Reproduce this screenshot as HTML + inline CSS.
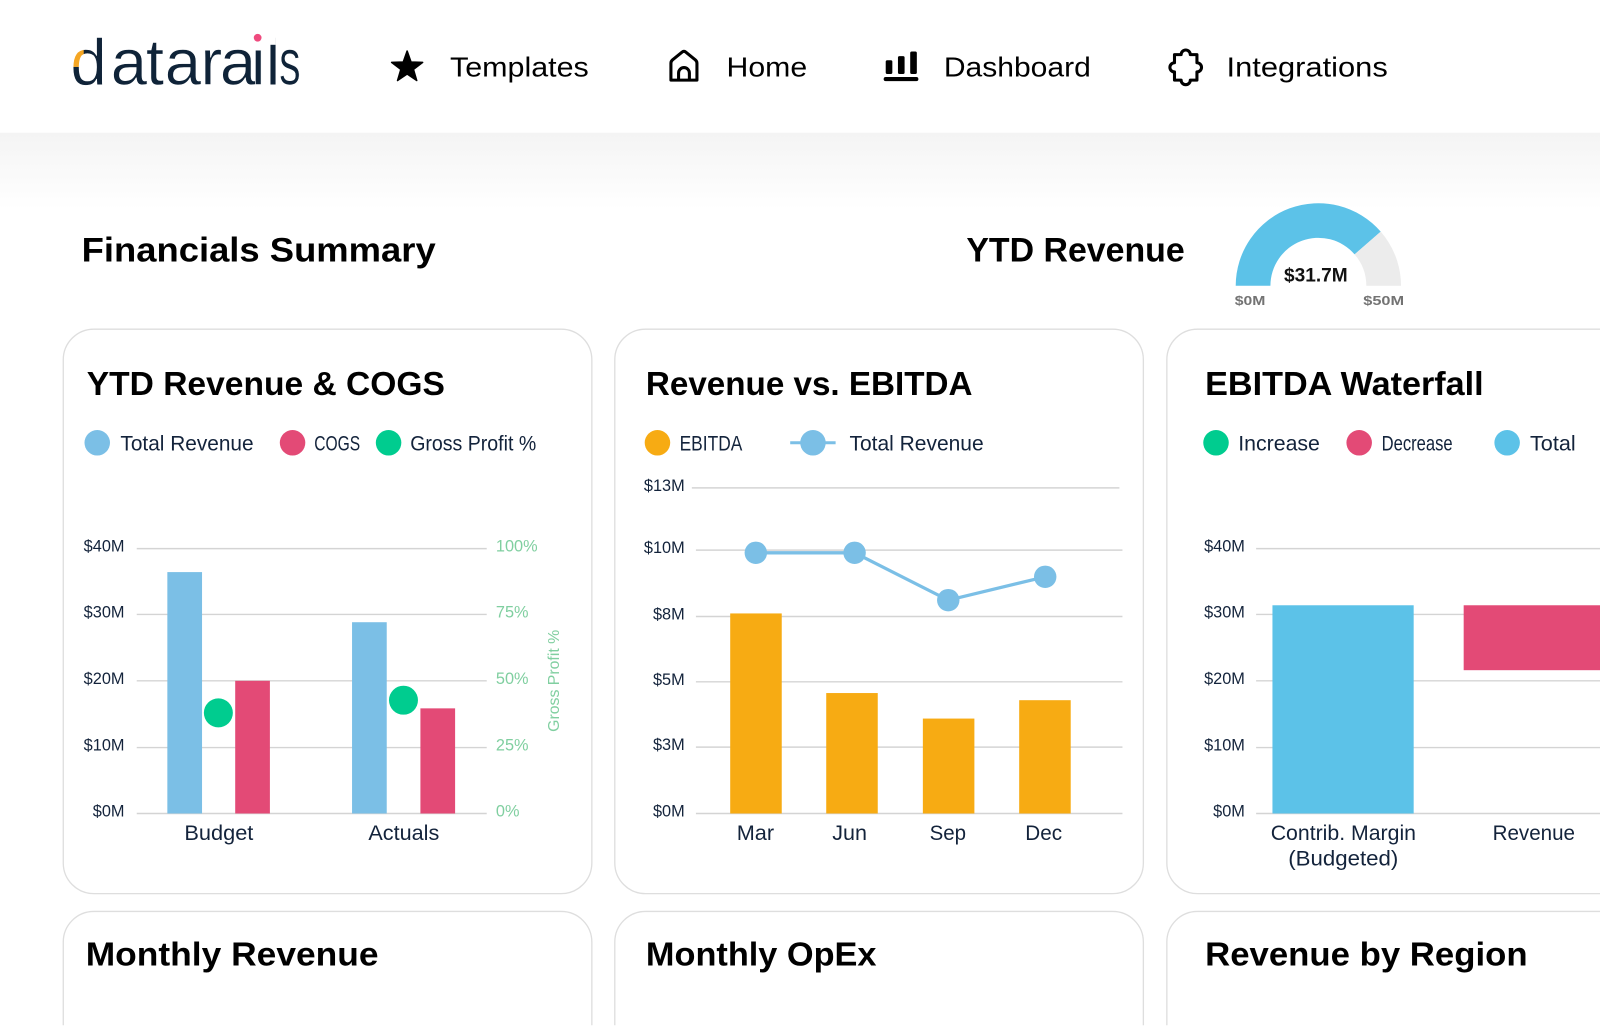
<!DOCTYPE html>
<html><head><meta charset="utf-8"><style>
html,body{margin:0;padding:0;background:#fff;width:1600px;height:1036px;overflow:hidden}
svg{display:block}
text{font-family:"Liberation Sans",sans-serif}
</style></head><body>
<svg width="1600" height="1036" viewBox="0 0 1568 1015" preserveAspectRatio="none" xmlns="http://www.w3.org/2000/svg">
<defs>
<linearGradient id="band" x1="0" y1="0" x2="0" y2="1">
<stop offset="0" stop-color="#f4f4f4"/><stop offset="1" stop-color="#ffffff"/>
</linearGradient>
<clipPath id="cOr"><rect x="60" y="40" width="22" height="25.5"/></clipPath>
<clipPath id="cDot"><rect x="240" y="20" width="30" height="24"/></clipPath>
</defs>
<rect x="0" y="0" width="1568" height="1015" fill="#fff"/>
<rect x="0" y="130" width="1568" height="75" fill="url(#band)"/>

<!-- logo -->
<text font-size="64" fill="#0f2338" stroke="#fff" stroke-width="0.6"><tspan x="69" y="83">d</tspan><tspan x="108.5" y="83">a</tspan><tspan x="143" y="83">t</tspan><tspan x="161.5" y="83">a</tspan><tspan x="196.5" y="83">r</tspan><tspan x="215.5" y="83">a</tspan><tspan x="246" y="83">i</tspan><tspan x="260.5" y="83">l</tspan></text>
<text transform="translate(273.5,0) scale(0.66,1)" x="0" y="83" font-size="64" fill="#0f2338" stroke="#fff" stroke-width="0.6">s</text>
<g clip-path="url(#cOr)"><rect x="60" y="40" width="22" height="25.5" fill="#fff"/><text x="69" y="83" font-size="64" fill="#f5a623" stroke="#fff" stroke-width="0.6">d</text></g>
<g clip-path="url(#cDot)"><rect x="240" y="20" width="30" height="24" fill="#fff"/><circle cx="252.5" cy="37" r="3.8" fill="#ef4a7e"/></g>

<!-- nav -->
<polygon points="399,50 402.8,60.7 414.2,61.1 405.2,68 408.4,78.9 399,72.5 389.6,78.9 392.8,68 383.8,61.1 395.2,60.7" fill="#000" stroke="#000" stroke-width="1.5" stroke-linejoin="round"/>
<text x="441" y="75" font-size="27.5" fill="#000" textLength="136" lengthAdjust="spacingAndGlyphs">Templates</text>
<path d="M657.5,78.5 V62 Q657.5,60 659,58.7 L668.5,51 Q670.3,49.6 672,51 L681.5,58.7 Q683,60 683,62 V78.5 Z" fill="none" stroke="#000" stroke-width="3" stroke-linejoin="round"/>
<path d="M665,78.5 V71.5 a5.3,5.3 0 0 1 10.6,0 V78.5" fill="none" stroke="#000" stroke-width="3"/>
<text x="712" y="75" font-size="27.5" fill="#000" textLength="79" lengthAdjust="spacingAndGlyphs">Home</text>
<rect x="868" y="59" width="6.5" height="13.5" rx="1.5" fill="#000"/>
<rect x="880" y="55" width="6.5" height="17.5" rx="1.5" fill="#000"/>
<rect x="892" y="50.5" width="6.5" height="22" rx="1.5" fill="#000"/>
<rect x="866" y="75.5" width="34" height="4" rx="2" fill="#000"/>
<text x="925" y="75" font-size="27.5" fill="#000" textLength="144" lengthAdjust="spacingAndGlyphs">Dashboard</text>
<path d="M1151,53.5 H1157.5 a4.5,4.5 0 0 1 9,0 H1173 V61.5 a4.5,4.5 0 0 1 0,9 V78.5 H1166.5 a4.5,4.5 0 0 1 -9,0 H1151 V70.5 a4.5,4.5 0 0 1 0,-9 Z" fill="none" stroke="#000" stroke-width="3" stroke-linejoin="round"/>
<text x="1202" y="75" font-size="27.5" fill="#000" textLength="158" lengthAdjust="spacingAndGlyphs">Integrations</text>

<!-- summary header -->
<text x="80" y="256" font-size="34" font-weight="bold" fill="#000" textLength="347" lengthAdjust="spacingAndGlyphs">Financials Summary</text>
<text x="947" y="256" font-size="34" font-weight="bold" fill="#000" textLength="214" lengthAdjust="spacingAndGlyphs">YTD Revenue</text>
<path d="M1211,280 A81,81 0 0 1 1353.1,226.9 L1327.5,249.2 A47,47 0 0 0 1245,280 Z" fill="#5cc2e8"/>
<path d="M1353.1,226.9 A81,81 0 0 1 1373,280 L1339,280 A47,47 0 0 0 1327.5,249.2 Z" fill="#ececec"/>
<text x="1258.3" y="276" font-size="19" font-weight="bold" fill="#111" textLength="62.4" lengthAdjust="spacingAndGlyphs">$31.7M</text>
<text x="1210" y="299" font-size="13" font-weight="bold" fill="#737373" textLength="30" lengthAdjust="spacingAndGlyphs">$0M</text>
<text x="1336" y="299" font-size="13" font-weight="bold" fill="#737373" textLength="40" lengthAdjust="spacingAndGlyphs">$50M</text>

<!-- cards -->
<g fill="#fff" stroke="#dedede" stroke-width="1.3">
<rect x="62" y="322.5" width="518" height="553" rx="30"/>
<rect x="602.5" y="322.5" width="518" height="553" rx="30"/>
<path d="M1568,322.5 H1173.5 A30,30 0 0 0 1143.5,352.5 V845.5 A30,30 0 0 0 1173.5,875.5 H1568"/>
<path d="M62,1004.5 V923 A30,30 0 0 1 92,893 H550 A30,30 0 0 1 580,923 V1004.5"/>
<path d="M602.5,1004.5 V923 A30,30 0 0 1 632.5,893 H1090.5 A30,30 0 0 1 1120.5,923 V1004.5"/>
<path d="M1143.5,1004.5 V923 A30,30 0 0 1 1173.5,893 H1568"/>
</g>

<!-- card titles -->
<g font-size="33" font-weight="bold" fill="#000">
<text x="85" y="387" textLength="351" lengthAdjust="spacingAndGlyphs">YTD Revenue &amp; COGS</text>
<text x="633" y="387" textLength="320" lengthAdjust="spacingAndGlyphs">Revenue vs. EBITDA</text>
<text x="1181" y="387" textLength="273" lengthAdjust="spacingAndGlyphs">EBITDA Waterfall</text>
<text x="84" y="946" textLength="287" lengthAdjust="spacingAndGlyphs">Monthly Revenue</text>
<text x="633" y="946" textLength="226" lengthAdjust="spacingAndGlyphs">Monthly OpEx</text>
<text x="1181" y="946" textLength="316" lengthAdjust="spacingAndGlyphs">Revenue by Region</text>
</g>

<!-- legends -->
<circle cx="95.3" cy="433.8" r="12.5" fill="#7bbfe6"/>
<circle cx="286.7" cy="433.8" r="12.5" fill="#e34a76"/>
<circle cx="380.8" cy="433.8" r="12.5" fill="#00cc8f"/>
<circle cx="644.3" cy="433.8" r="12.5" fill="#f7ab13"/>
<line x1="774.4" y1="433.8" x2="818.9" y2="433.8" stroke="#7bbfe6" stroke-width="3"/>
<circle cx="796.7" cy="433.8" r="12.5" fill="#7bbfe6"/>
<circle cx="1191.7" cy="433.8" r="12.5" fill="#00cc8f"/>
<circle cx="1332" cy="433.8" r="12.5" fill="#e34a76"/>
<circle cx="1477" cy="433.8" r="12.5" fill="#5cc2e8"/>
<g font-size="21" fill="#13233b">
<text x="118" y="441.5" textLength="130.5" lengthAdjust="spacingAndGlyphs">Total Revenue</text>
<text x="308" y="441.5" textLength="45" lengthAdjust="spacingAndGlyphs">COGS</text>
<text x="402" y="441.5" textLength="123.5" lengthAdjust="spacingAndGlyphs">Gross Profit %</text>
<text x="666" y="441.5" textLength="61.5" lengthAdjust="spacingAndGlyphs">EBITDA</text>
<text x="832.5" y="441.5" textLength="131.5" lengthAdjust="spacingAndGlyphs">Total Revenue</text>
<text x="1213.5" y="441.5" textLength="80" lengthAdjust="spacingAndGlyphs">Increase</text>
<text x="1354" y="441.5" textLength="69.6" lengthAdjust="spacingAndGlyphs">Decrease</text>
<text x="1499.4" y="441.5" textLength="44.8" lengthAdjust="spacingAndGlyphs">Total</text>
</g>

<!-- gridlines -->
<g stroke="#d4d4d4" stroke-width="1.4">
<line x1="134" y1="537.5" x2="477" y2="537.5"/>
<line x1="134" y1="602" x2="477" y2="602"/>
<line x1="134" y1="667" x2="477" y2="667"/>
<line x1="134" y1="732.4" x2="477" y2="732.4"/>
<line x1="134" y1="797" x2="477" y2="797"/>
<line x1="678" y1="478" x2="1097" y2="478"/>
<line x1="682" y1="539" x2="1100" y2="539"/>
<line x1="682" y1="604" x2="1100" y2="604"/>
<line x1="682" y1="668" x2="1100" y2="668"/>
<line x1="682" y1="732" x2="1100" y2="732"/>
<line x1="682" y1="797" x2="1100" y2="797"/>
<line x1="1231" y1="537.5" x2="1568" y2="537.5"/>
<line x1="1231" y1="602" x2="1568" y2="602"/>
<line x1="1231" y1="667" x2="1568" y2="667"/>
<line x1="1231" y1="732.4" x2="1568" y2="732.4"/>
<line x1="1231" y1="797" x2="1568" y2="797"/>
</g>

<!-- tick labels -->
<g font-size="16" fill="#13233b" text-anchor="end">
<text x="122" y="540.5">$40M</text>
<text x="122" y="605">$30M</text>
<text x="122" y="670">$20M</text>
<text x="122" y="735.4">$10M</text>
<text x="122" y="800">$0M</text>
<text x="671" y="481">$13M</text>
<text x="671" y="542">$10M</text>
<text x="671" y="607">$8M</text>
<text x="671" y="671">$5M</text>
<text x="671" y="735">$3M</text>
<text x="671" y="800">$0M</text>
<text x="1220" y="540.5">$40M</text>
<text x="1220" y="605">$30M</text>
<text x="1220" y="670">$20M</text>
<text x="1220" y="735.4">$10M</text>
<text x="1220" y="800">$0M</text>
</g>
<g font-size="16" fill="#80cfa0">
<text x="486" y="540.5">100%</text>
<text x="486" y="605">75%</text>
<text x="486" y="670">50%</text>
<text x="486" y="735.4">25%</text>
<text x="486" y="800">0%</text>
<text transform="translate(548,717) rotate(-90)" x="0" y="0" font-size="15.5" textLength="100" lengthAdjust="spacingAndGlyphs">Gross Profit %</text>
</g>

<!-- chart 1 bars -->
<rect x="164" y="560.5" width="34" height="236.5" fill="#7bbfe6"/>
<rect x="230.5" y="667" width="34" height="130" fill="#e34a76"/>
<rect x="345" y="609.6" width="34" height="187.4" fill="#7bbfe6"/>
<rect x="412" y="694" width="34" height="103" fill="#e34a76"/>
<circle cx="214" cy="698.4" r="14.2" fill="#00cc8f"/>
<circle cx="395.4" cy="686" r="14.2" fill="#00cc8f"/>

<!-- chart 2 -->
<rect x="715.6" y="601" width="50.5" height="196" fill="#f7ab13"/>
<rect x="809.7" y="679" width="50.5" height="118" fill="#f7ab13"/>
<rect x="904.4" y="704" width="50.5" height="93" fill="#f7ab13"/>
<rect x="998.8" y="686" width="50.5" height="111" fill="#f7ab13"/>
<path d="M740.7,541.6 L837.5,541.6 L929.3,588 L1024.3,565.1" fill="none" stroke="#7bbfe6" stroke-width="3.2"/>
<g fill="#7bbfe6">
<circle cx="740.7" cy="541.6" r="11"/>
<circle cx="837.5" cy="541.6" r="11"/>
<circle cx="929.3" cy="588" r="11"/>
<circle cx="1024.3" cy="565.1" r="11"/>
</g>

<!-- chart 3 -->
<rect x="1247" y="593" width="138.4" height="204" fill="#5cc2e8"/>
<rect x="1434.4" y="593" width="133.6" height="63.6" fill="#e34a76"/>

<!-- category labels -->
<g font-size="20.5" fill="#13233b">
<text x="180.7" y="823" textLength="67.6" lengthAdjust="spacingAndGlyphs">Budget</text>
<text x="361" y="823" textLength="69.5" lengthAdjust="spacingAndGlyphs">Actuals</text>
<text x="722" y="823" textLength="36.6" lengthAdjust="spacingAndGlyphs">Mar</text>
<text x="815.6" y="823" textLength="34" lengthAdjust="spacingAndGlyphs">Jun</text>
<text x="911" y="823" textLength="35.7" lengthAdjust="spacingAndGlyphs">Sep</text>
<text x="1004.8" y="823" textLength="36" lengthAdjust="spacingAndGlyphs">Dec</text>
<text x="1245.3" y="823" textLength="142.4" lengthAdjust="spacingAndGlyphs">Contrib. Margin</text>
<text x="1262.5" y="848" textLength="107.8" lengthAdjust="spacingAndGlyphs">(Budgeted)</text>
<text x="1462.8" y="823" textLength="80.7" lengthAdjust="spacingAndGlyphs">Revenue</text>
</g>
</svg>
</body></html>
